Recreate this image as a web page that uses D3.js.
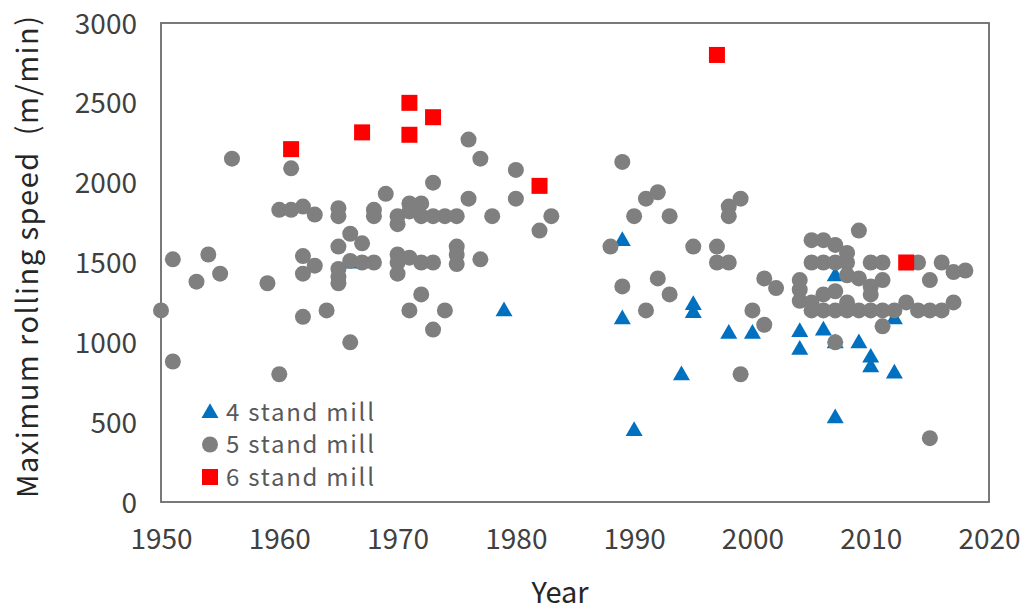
<!DOCTYPE html>
<html>
<head>
<meta charset="utf-8">
<script src="https://cdn.jsdelivr.net/npm/d3@7"></script>
<style>
  html, body { margin: 0; padding: 0; background: #ffffff; }
  svg { display: block; }
  text { font-family: "Noto Sans CJK JP", "Noto Sans", sans-serif; }
</style>
</head>
<body>
<svg id="chart" width="1027" height="614"></svg>
<script>
// Maximum rolling speed of tandem cold mills by year and number of stands
const xTicks = [1950, 1960, 1970, 1980, 1990, 2000, 2010, 2020];
const yTicks = [0, 500, 1000, 1500, 2000, 2500, 3000];

// 4 stand mill: [year, speed m/min]
const fourStand = [
  [1966, 1500], [1979, 1200], [1989, 1640], [1989, 1150], [1990, 450],
  [1994, 800], [1995, 1240], [1995, 1190], [1998, 1060], [2000, 1060],
  [2004, 1070], [2004, 960], [2006, 1080], [2007, 1420], [2007, 1000],
  [2007, 530], [2009, 1000], [2010, 910], [2010, 850], [2012, 1150], [2012, 810]
];

// 5 stand mill
const fiveStand = [
  [1950, 1200], [1951, 1520], [1951, 880], [1953, 1380], [1954, 1550],
  [1955, 1430], [1956, 2150], [1959, 1370], [1960, 1830], [1960, 800],
  [1961, 2090], [1961, 1830], [1962, 1850], [1962, 1540], [1962, 1430],
  [1962, 1160], [1963, 1800], [1963, 1480], [1964, 1200],
  [1965, 1840], [1965, 1790], [1965, 1600], [1965, 1460], [1965, 1410], [1965, 1370],
  [1966, 1680], [1966, 1510], [1966, 1000], [1967, 1620], [1967, 1500],
  [1968, 1830], [1968, 1790], [1968, 1500], [1969, 1930],
  [1970, 1790], [1970, 1740], [1970, 1550], [1970, 1500], [1970, 1430],
  [1971, 1870], [1971, 1820], [1971, 1530], [1971, 1200],
  [1972, 1870], [1972, 1790], [1972, 1500], [1972, 1300],
  [1973, 2000], [1973, 1790], [1973, 1500], [1973, 1080],
  [1974, 1790], [1974, 1200], [1975, 1790], [1975, 1600], [1975, 1550], [1975, 1490],
  [1976, 2270], [1976, 1900], [1977, 2150], [1977, 1520], [1978, 1790],
  [1980, 2080], [1980, 1900], [1982, 1700], [1983, 1790],
  [1988, 1600], [1989, 2130], [1989, 1350], [1990, 1790], [1991, 1900], [1991, 1200],
  [1992, 1940], [1992, 1400], [1993, 1790], [1993, 1300], [1995, 1600],
  [1997, 1600], [1997, 1500], [1998, 1850], [1998, 1790], [1998, 1500],
  [1999, 1900], [1999, 800], [2000, 1200], [2001, 1400], [2001, 1110], [2002, 1340],
  [2004, 1390], [2004, 1330], [2004, 1260],
  [2005, 1640], [2005, 1500], [2005, 1250], [2005, 1200],
  [2006, 1640], [2006, 1500], [2006, 1300], [2006, 1200],
  [2007, 1610], [2007, 1500], [2007, 1320], [2007, 1200], [2007, 1000],
  [2008, 1560], [2008, 1500], [2008, 1420], [2008, 1250], [2008, 1200],
  [2009, 1700], [2009, 1400], [2009, 1200],
  [2010, 1500], [2010, 1350], [2010, 1300], [2010, 1200],
  [2011, 1500], [2011, 1390], [2011, 1200], [2011, 1100],
  [2012, 1200], [2013, 1250], [2014, 1500], [2014, 1200],
  [2015, 1390], [2015, 1200], [2015, 400], [2016, 1500], [2016, 1200],
  [2017, 1440], [2017, 1250], [2018, 1450]
];

// 6 stand mill
const sixStand = [
  [1961, 2210], [1967, 2315], [1971, 2500], [1971, 2300], [1973, 2410],
  [1982, 1980], [1997, 2800], [2013, 1500]
];

const legendLabels = ["4 stand mill", "5 stand mill", "6 stand mill"];
const colors = { four: "#0070c0", five: "#7f7f7f", six: "#ff0000" };

const svg = d3.select("#chart");
const plot = { left: 161, right: 989, top: 23, bottom: 502 };

const x = d3.scaleLinear().domain([1950, 2020]).range([plot.left, plot.right]);
const y = d3.scaleLinear().domain([0, 3000]).range([plot.bottom, plot.top]);

// plot area frame
svg.append("rect")
  .attr("x", plot.left).attr("y", plot.top)
  .attr("width", plot.right - plot.left).attr("height", plot.bottom - plot.top)
  .attr("fill", "#ffffff").attr("stroke", "#6b6b6b").attr("stroke-width", 1.8);

const tickFont = "\"Noto Sans CJK JP\", \"Noto Sans\", sans-serif";

// y axis labels
const yAxis = svg.append("g")
  .attr("transform", `translate(${plot.left - 20},0)`)
  .call(d3.axisLeft(y).tickValues(yTicks).tickFormat(d3.format("d")).tickSize(0).tickPadding(4));
yAxis.select(".domain").remove();
yAxis.selectAll("text")
  .attr("font-family", tickFont)
  .attr("font-size", 28).attr("fill", "#404040").attr("dy", "0.36em");

// x axis labels
const xAxis = svg.append("g")
  .attr("transform", `translate(0,${plot.bottom + 27})`)
  .call(d3.axisBottom(x).tickValues(xTicks).tickFormat(d3.format("d")).tickSize(0).tickPadding(0));
xAxis.select(".domain").remove();
xAxis.selectAll("text")
  .attr("font-family", tickFont)
  .attr("font-size", 28).attr("fill", "#404040");

// axis titles
svg.append("text")
  .attr("x", 560).attr("y", 603)
  .attr("text-anchor", "middle")
  .attr("font-size", 29).attr("fill", "#262626")
  .text("Year");

svg.append("text")
  .attr("transform", `translate(38,257) rotate(-90)`)
  .attr("text-anchor", "middle")
  .attr("font-size", 29).attr("fill", "#262626")
  .attr("textLength", 482).attr("lengthAdjust", "spacing")
  .attr("xml:space", "preserve")
  .text("Maximum rolling speed  (m/min)");

const triangle = d3.symbol().type(d3.symbolTriangle).size(125);
const circleR = 8;
const sq = 16;

// 4 stand mill (drawn first, underneath)
svg.append("g").selectAll("path").data(fourStand).join("path")
  .attr("d", triangle)
  .attr("transform", d => `translate(${x(d[0])},${y(d[1]) + 1})`)
  .attr("fill", colors.four);

// 5 stand mill
svg.append("g").selectAll("circle").data(fiveStand).join("circle")
  .attr("cx", d => x(d[0])).attr("cy", d => y(d[1]))
  .attr("r", circleR).attr("fill", colors.five);

// 6 stand mill
svg.append("g").selectAll("rect").data(sixStand).join("rect")
  .attr("x", d => x(d[0]) - sq / 2).attr("y", d => y(d[1]) - sq / 2)
  .attr("width", sq).attr("height", sq).attr("fill", colors.six);

// legend
const legend = svg.append("g").attr("transform", "translate(210,412)");
const rowGap = 32.5;
legendLabels.forEach((label, i) => {
  const g = legend.append("g").attr("transform", `translate(0,${i * rowGap})`);
  if (i === 0) g.append("path").attr("d", triangle).attr("transform", "translate(0,1)").attr("fill", colors.four);
  if (i === 1) g.append("circle").attr("r", 8).attr("fill", colors.five);
  if (i === 2) g.append("rect").attr("x", -8).attr("y", -8).attr("width", 16).attr("height", 16).attr("fill", colors.six);
  g.append("text").attr("x", 16).attr("y", 0).attr("dy", "0.36em")
    .attr("font-family", "Lato, \"Noto Sans\", sans-serif")
    .attr("font-size", 24).attr("fill", "#595959")
    .attr("textLength", 148).attr("lengthAdjust", "spacing")
    .text(label);
});
</script>
</body>
</html>
